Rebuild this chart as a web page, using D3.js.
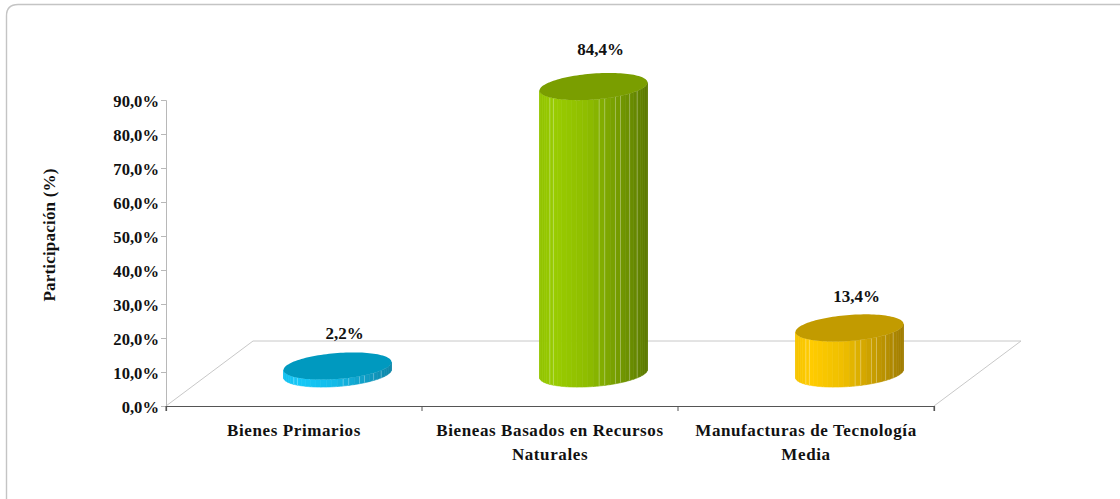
<!DOCTYPE html>
<html><head><meta charset="utf-8">
<style>html,body{margin:0;padding:0;background:#fff}svg{display:block}
text{font-family:"Liberation Serif",serif;font-weight:bold;fill:#111}</style>
<script src="https://cdnjs.cloudflare.com/ajax/libs/d3/7.8.5/d3.min.js"></script>
</head><body><svg id="c" width="1120" height="499"></svg>
<script>
const categories = ["Bienes Primarios", "Bieneas Basados en Recursos Naturales", "Manufacturas de Tecnología Media"];
const categoryLines = [["Bienes Primarios"], ["Bieneas Basados en Recursos", "Naturales"], ["Manufacturas de Tecnología", "Media"]];
const values = [2.2, 84.4, 13.4];
const tickValues = [0, 10, 20, 30, 40, 50, 60, 70, 80, 90];
const sideColors = ["#14c8f8", "#99cc00", "#ffcc00"];
const darkSideColors = ["#0f86a8", "#5c7a00", "#a07c00"];
const topColors = ["#0099bf", "#7a9e00", "#c29b00"];

const svg = d3.select("#c");
svg.append("path").attr("d","M6.5,499V16Q6.5,4.5 18,4.5H1120")
  .attr("fill","none").attr("stroke","#c4c4c4").attr("stroke-width",1.4);

const x = d3.scaleBand().domain(categories).range([166,934]);
const y = d3.scaleLinear().domain([0,90]).range([406,100]);
const depthX = 87, depthY = -65;
const fmt = d => d.toFixed(1).replace(".", ",") + "%";

// floor
svg.append("path")
  .attr("d", `M${x.range()[0]},${y(0)}L${x.range()[0]+depthX},${y(0)+depthY}L${x.range()[1]+depthX},${y(0)+depthY}L${x.range()[1]},${y(0)}`)
  .attr("fill","none").attr("stroke","#c8c8c8").attr("stroke-width",1);

// axes
const yAxis = d3.axisLeft(y).tickValues(tickValues).tickSize(5).tickPadding(2).tickFormat(fmt);
const gy = svg.append("g").attr("transform",`translate(${x.range()[0]},0)`).call(yAxis);
gy.selectAll("path,line").attr("stroke","#b8b8b8");
gy.selectAll("text").style("font-size","16.6px").attr("fill","#111").attr("dy","0.42em");

const xAxis = d3.axisBottom(x).tickSize(5).tickSizeOuter(5).tickFormat("");
const gx = svg.append("g").attr("transform",`translate(0,${y(0)})`).call(xAxis);
gx.selectAll(".tick").remove();
gx.select("path").attr("stroke","#555").attr("stroke-width",1.2);
gx.selectAll(".bt").data(categories.concat([null])).join("line").attr("class","bt")
  .attr("x1",(d,i)=>i<3?x(d):x.range()[1]).attr("x2",(d,i)=>i<3?x(d):x.range()[1])
  .attr("y1",0).attr("y2",5).attr("stroke","#555");

// cylinders
const rx = 54, ry = 13, shear = 4, strips = 30;
const seams = [6, 7, 16, 17, 19, 20, 22, 24];
const labelGaps = [27, 32, 26];
const pt = (cx,cy,t) => [cx + rx*Math.cos(t), cy + ry*Math.sin(t) - shear*Math.cos(t)];
categories.forEach((cat,i) => {
  const cx = x(cat) + x.bandwidth()/2 + depthX/2;
  const by = y(0) + depthY/2;
  const ty = by - (y(0) - y(values[i]));
  const mix = d3.interpolateRgb(sideColors[i],darkSideColors[i]);
  const shade = d3.scaleLinear().domain([0,0.15,0.45,1])
    .range([mix(0.1), sideColors[i], mix(0.18), darkSideColors[i]]);
  const g = svg.append("g");
  d3.range(strips).forEach(k => {
    const t0 = Math.PI - Math.PI*k/strips, t1 = Math.PI - Math.PI*(k+1)/strips;
    const pts = [];
    d3.range(0,1.01,0.25).forEach(f => pts.push(pt(cx,by,t0+(t1-t0)*f)));
    d3.range(1,-0.01,-0.25).forEach(f => pts.push(pt(cx,ty,t0+(t1-t0)*f)));
    const mid = (Math.cos((t0+t1)/2)+1)/2;
    const c = shade(mid);
    g.append("path").attr("d", d3.line()(pts)+"Z").attr("fill", c).attr("stroke", c).attr("stroke-width",0.6);
  });
  seams.forEach(k => {
    const t = Math.PI - Math.PI*k/strips;
    const a = pt(cx,by,t), b = pt(cx,ty,t);
    g.append("line").attr("x1",a[0]).attr("y1",a[1]).attr("x2",b[0]).attr("y2",b[1])
      .attr("stroke","#fff").attr("stroke-opacity",0.3).attr("stroke-width",1);
  });
  const top = d3.range(0,Math.PI*2,Math.PI/60).map(t=>pt(cx,ty,t));
  g.append("path").attr("d", d3.line()(top)+"Z").attr("fill", topColors[i]);
  svg.append("text").attr("x",cx+7).attr("y",ty-labelGaps[i]).attr("text-anchor","middle")
    .style("font-size","17px").text(fmt(values[i]));
  const t = svg.append("text").attr("text-anchor","middle").style("font-size","17px").style("letter-spacing","0.6px");
  categoryLines[i].forEach((l,j) => t.append("tspan").attr("x",x(cat)+x.bandwidth()/2).attr("y",436+j*24).text(l));
});

svg.append("text").attr("transform","translate(55,235) rotate(-90)").attr("text-anchor","middle")
  .style("font-size","17px").style("letter-spacing","0.2px").text("Participación (%)");
</script></body></html>
